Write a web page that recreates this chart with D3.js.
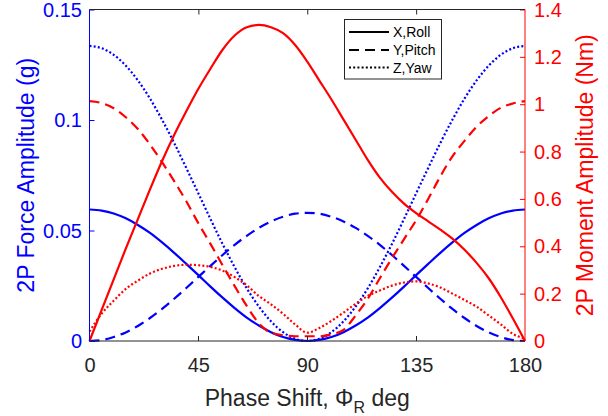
<!DOCTYPE html>
<html>
<head>
<meta charset="utf-8">
<script src="https://cdn.jsdelivr.net/npm/d3@7"></script>
<style>
html,body{margin:0;padding:0;background:#fff;}
svg{display:block;font-family:"Liberation Sans",Arial,Helvetica,sans-serif;}
</style>
</head>
<body>
<svg id="chart" width="608" height="416"></svg>
<script>
// ---- data ----
const phase = [0,5,10,15,20,25,30,35,40,45,50,55,60,65,70,75,80,85,90,95,100,105,110,115,120,125,130,135,140,145,150,155,160,165,170,175,180];
// 2P force amplitude (g) – left axis
const forceX = [0.0595,0.059,0.0577,0.0555,0.0525,0.0489,0.0446,0.0399,0.0349,0.0298,0.0246,0.0196,0.0149,0.0106,0.007,0.004,0.0018,0.0005,0,0.0005,0.0018,0.004,0.007,0.0106,0.0149,0.0196,0.0246,0.0298,0.0349,0.0399,0.0446,0.0489,0.0525,0.0555,0.0577,0.059,0.0595];
const forceY = [0,0.0004,0.0018,0.0039,0.0068,0.0104,0.0145,0.0191,0.024,0.029,0.034,0.0389,0.0435,0.0476,0.0512,0.0541,0.0562,0.0576,0.058,0.0576,0.0562,0.0541,0.0512,0.0476,0.0435,0.0389,0.034,0.029,0.024,0.0191,0.0145,0.0104,0.0068,0.0039,0.0018,0.0004,0];
const forceZ = [0.1335,0.1325,0.1295,0.1246,0.1179,0.1097,0.1001,0.0896,0.0783,0.0668,0.0552,0.0439,0.0334,0.0238,0.0156,0.0089,0.004,0.001,0,0.001,0.004,0.0089,0.0156,0.0238,0.0334,0.0439,0.0552,0.0668,0.0783,0.0896,0.1001,0.1097,0.1179,0.1246,0.1295,0.1325,0.1335];
// 2P moment amplitude (Nm) – right axis
const momentX = [0,0.13,0.26,0.39,0.515,0.64,0.76,0.87,0.97,1.065,1.15,1.23,1.29,1.325,1.335,1.325,1.30,1.25,1.18,1.10,1.02,0.935,0.85,0.765,0.69,0.63,0.58,0.54,0.505,0.47,0.432,0.385,0.33,0.265,0.185,0.095,0];
const momentY = [1.013,1.005,0.983,0.945,0.895,0.83,0.755,0.675,0.59,0.497,0.41,0.32,0.232,0.148,0.075,0.035,0.025,0.02,0.02,0.02,0.028,0.047,0.108,0.178,0.265,0.35,0.43,0.51,0.6,0.695,0.78,0.845,0.905,0.95,0.985,1.003,1.013];
const momentZ = [0.04,0.115,0.17,0.22,0.255,0.285,0.305,0.317,0.322,0.32,0.313,0.297,0.27,0.235,0.19,0.155,0.115,0.07,0.035,0.055,0.085,0.12,0.157,0.19,0.213,0.234,0.247,0.252,0.243,0.226,0.2,0.173,0.145,0.108,0.07,0.03,0.01];

const xTicks = [0,45,90,135,180];
const leftTicks = [0,0.05,0.1,0.15];
const leftTickLabels = ["0","0.05","0.1","0.15"];
const rightTicks = [0,0.2,0.4,0.6,0.8,1,1.2,1.4];
const rightTickLabels = ["0","0.2","0.4","0.6","0.8","1","1.2","1.4"];
const legendLabels = ["X,Roll","Y,Pitch","Z,Yaw"];

// ---- layout ----
const L = 89.5, R = 525, T = 9.5, B = 341;
const BLUE = "#0000ff", RED = "#ff0000", DARK = "#262626";
const svg = d3.select("#chart");

const x = d3.scaleLinear().domain([0,180]).range([L,R]);
const yL = d3.scaleLinear().domain([0,0.15]).range([B,T]);
const yR = d3.scaleLinear().domain([0,1.4]).range([B,T]);

const styles = [
  {dash:null},
  {dash:"10,6"},
  {dash:"2,2.2"}
];

function drawSeries(vals, yScale, color, st){
  const line = d3.line().x((d,i)=>x(phase[i])).y(d=>yScale(d)).curve(d3.curveMonotoneX);
  svg.append("path").datum(vals).attr("d",line)
    .attr("fill","none").attr("stroke",color).attr("stroke-width",2.2)
    .attr("stroke-dasharray",st.dash);
}
const clip = svg.append("defs").append("clipPath").attr("id","pc")
  .append("rect").attr("x",L-2).attr("y",T-2).attr("width",R-L+4).attr("height",B-T+4);

[forceX,forceY,forceZ].forEach((v,i)=>drawSeries(v,yL,BLUE,styles[i]));
[momentX,momentY,momentZ].forEach((v,i)=>drawSeries(v,yR,RED,styles[i]));

// ---- axes ----
const font = "'Liberation Sans',Arial,sans-serif";
// bottom axis
const xAxisB = d3.axisBottom(x).tickValues(xTicks).tickSize(0).tickPadding(0).tickFormat(d3.format("d"));
const gb = svg.append("g").attr("transform",`translate(0,${B})`).call(xAxisB);
gb.select(".domain").remove();
gb.selectAll("text").attr("fill",DARK).attr("font-size",20).attr("font-family",font)
  .attr("dy",null).attr("y",24).attr("dominant-baseline","central");
// x tick marks (inward, bottom and top)
svg.append("g").selectAll("line").data(xTicks.slice(1,-1)).join("line")
  .attr("x1",d=>x(d)).attr("x2",d=>x(d)).attr("y1",B).attr("y2",B-5)
  .attr("stroke",DARK).attr("stroke-width",1).attr("shape-rendering","crispEdges");
const gt = svg.append("g").attr("transform",`translate(0,${T})`)
  .call(d3.axisBottom(x).tickValues(xTicks.slice(1,-1)).tickSize(5).tickFormat(""));
gt.select(".domain").remove();
gt.selectAll("line").attr("stroke",DARK);

// left axis
const gl = svg.append("g").attr("transform",`translate(${L},0)`)
  .call(d3.axisRight(yL).tickValues(leftTicks).tickSize(5).tickFormat(""));
gl.select(".domain").remove();
gl.selectAll("line").attr("stroke",BLUE);
svg.append("g").selectAll("text").data(leftTicks).join("text")
  .attr("x",82).attr("y",d=>yL(d)).attr("text-anchor","end").attr("dominant-baseline","central")
  .attr("fill",BLUE).attr("font-size",20).text((d,i)=>leftTickLabels[i]);

// right axis
const gr = svg.append("g").attr("transform",`translate(${R},0)`)
  .call(d3.axisLeft(yR).tickValues(rightTicks).tickSize(5).tickFormat(""));
gr.select(".domain").remove();
gr.selectAll("line").attr("stroke",RED);
svg.append("g").selectAll("text").data(rightTicks).join("text")
  .attr("x",534).attr("y",d=>yR(d)).attr("text-anchor","start").attr("dominant-baseline","central")
  .attr("fill",RED).attr("font-size",20).text((d,i)=>rightTickLabels[i]);

// box lines
svg.append("line").attr("x1",L).attr("x2",R).attr("y1",T).attr("y2",T).attr("stroke",DARK).attr("stroke-width",1);
svg.append("line").attr("x1",L).attr("x2",R).attr("y1",B).attr("y2",B).attr("stroke",DARK).attr("stroke-width",1);
svg.append("line").attr("x1",L).attr("x2",L).attr("y1",T).attr("y2",B).attr("stroke",BLUE).attr("stroke-width",1);
svg.append("line").attr("x1",R).attr("x2",R).attr("y1",T).attr("y2",B).attr("stroke",RED).attr("stroke-width",1);

// axis labels
svg.append("text").attr("transform",`translate(26,${(T+B)/2}) rotate(-90)`)
  .attr("text-anchor","middle").attr("dominant-baseline","central")
  .attr("fill",BLUE).attr("font-size",23).text("2P Force Amplitude (g)");
svg.append("text").attr("transform",`translate(585,${(T+B)/2}) rotate(-90)`)
  .attr("text-anchor","middle").attr("dominant-baseline","central")
  .attr("fill",RED).attr("font-size",23).text("2P Moment Amplitude (Nm)");
const xl = svg.append("text").attr("x",(L+R)/2).attr("y",406).attr("text-anchor","middle")
  .attr("fill",DARK).attr("font-size",23);
xl.append("tspan").text("Phase Shift, \u03A6");
xl.append("tspan").attr("font-size",16).attr("dy",7).text("R");
xl.append("tspan").attr("dy",-7).text(" deg");

// legend
const lg = svg.append("g");
lg.append("rect").attr("x",344.5).attr("y",19.5).attr("width",97).attr("height",59.5)
  .attr("fill","#fff").attr("stroke",DARK).attr("stroke-width",1);
const ly = [32,50,67.5];
legendLabels.forEach((t,i)=>{
  lg.append("line").attr("x1",349).attr("x2",389).attr("y1",ly[i]).attr("y2",ly[i])
    .attr("stroke","#000").attr("stroke-width",2.2).attr("stroke-dasharray",styles[i].dash);
  lg.append("text").attr("x",393).attr("y",ly[i]).attr("dominant-baseline","central")
    .attr("fill","#000").attr("font-size",14).text(t);
});
</script>
</body>
</html>
